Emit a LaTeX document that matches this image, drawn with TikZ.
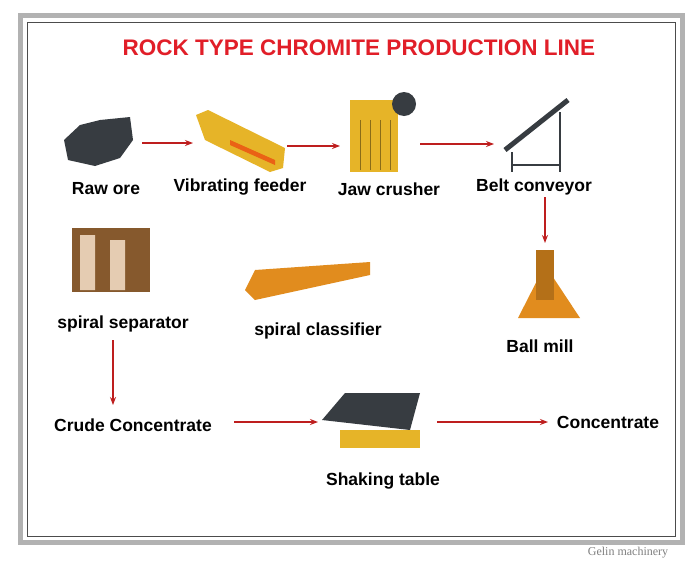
\documentclass[tikz,border=0pt]{standalone}
\usepackage{fontspec}
\setmainfont{Liberation Sans}
\newfontfamily\serifx{Liberation Serif}
\usetikzlibrary{arrows.meta}
\definecolor{arr}{RGB}{190,30,30}
\definecolor{ttl}{RGB}{225,30,40}
\definecolor{yel}{RGB}{230,180,40}
\definecolor{org}{RGB}{225,140,30}
\definecolor{drk}{RGB}{55,60,65}
\tikzset{
  lbl/.style={font=\bfseries\fontsize{17.5}{20}\selectfont, inner sep=1pt},
  flow/.style={draw=arr, line width=1.2pt, -{Stealth[length=8pt,width=6pt]}},
}
\begin{document}
\begin{tikzpicture}[x=1pt,y=-1pt]
\useasboundingbox (0,0) rectangle (700,565);
\fill[white] (0,0) rectangle (700,565);
\draw[gray!60, line width=5pt] (20,15) rectangle (682,542);
\draw[black!70, line width=0.8pt] (27,22) rectangle (675,536);
\node[font=\serifx\fontsize{12}{14}\selectfont, text=gray] (brand) at (628,553) {Gelin machinery};
\node[font=\bfseries\fontsize{22.5}{26}\selectfont, text=ttl] (title) at (359,48) {ROCK TYPE CHROMITE PRODUCTION LINE};
% machine pictures (stylized)
\fill[drk] (68,160) -- (64,140) -- (80,125) -- (100,120) -- (130,117) -- (133,140) -- (120,158) -- (95,166) -- cycle;
\fill[yel] (196,115) -- (208,110) -- (285,148) -- (283,168) -- (270,172) -- (205,140) -- cycle;
\fill[org!70!red] (230,140) -- (275,160) -- (275,165) -- (230,145) -- cycle;
\fill[yel] (350,100) rectangle (398,172);
\draw[yel!60!black] (355,120) grid[step=10] (395,170);
\fill[drk] (404,104) circle (12);
\draw[drk, line width=5pt] (505,150) -- (568,100);
\draw[drk, line width=2pt] (512,152) -- (512,172) (560,112) -- (560,172) (512,165) -- (560,165);
\fill[brown!70!black] (72,228) rectangle (150,292);
\fill[brown!40] (80,235) rectangle (95,290) (110,240) rectangle (125,290);
\fill[org] (245,290) -- (255,270) -- (370,262) -- (370,275) -- (255,300) -- cycle;
\fill[org] (518,318) -- (545,265) -- (580,318) -- cycle;
\fill[org!80!black] (536,250) rectangle (554,300);
\fill[drk] (322,420) -- (345,393) -- (420,393) -- (410,430) -- cycle;
\fill[yel] (340,430) rectangle (420,448);
% labels
\node[lbl] (rawore) at (106,189) {Raw ore};
\node[lbl] (vf) at (240,187) {Vibrating feeder};
\node[lbl] (jc) at (389,189) {Jaw crusher};
\node[lbl] (bc) at (534,187) {Belt conveyor};
\node[lbl] (ss) at (123,324) {spiral separator};
\node[lbl] (sc) at (318,331) {spiral classifier};
\node[lbl] (bm) at (540,346) {Ball mill};
\node[lbl] (cc) at (133,425) {Crude Concentrate};
\node[lbl] (st) at (383,481) {Shaking table};
\node[lbl] (con) at (608,422) {Concentrate};
% arrows
\coordinate (a1) at (142,143); \coordinate (a2) at (193,143);
\coordinate (b1) at (287,146); \coordinate (b2) at (340,146);
\coordinate (c1) at (420,144); \coordinate (c2) at (494,144);
\coordinate (d1) at (545,197); \coordinate (d2) at (545,243);
\coordinate (e1) at (113,340); \coordinate (e2) at (113,405);
\coordinate (f1) at (234,422); \coordinate (f2) at (318,422);
\coordinate (g1) at (437,422); \coordinate (g2) at (548,422);
\draw[flow] (a1) -- (a2);
\draw[flow] (b1) -- (b2);
\draw[flow] (c1) -- (c2);
\draw[flow] (d1) -- (d2);
\draw[flow] (e1) -- (e2);
\draw[flow] (f1) -- (f2);
\draw[flow] (g1) -- (g2);
\end{tikzpicture}
\end{document}
